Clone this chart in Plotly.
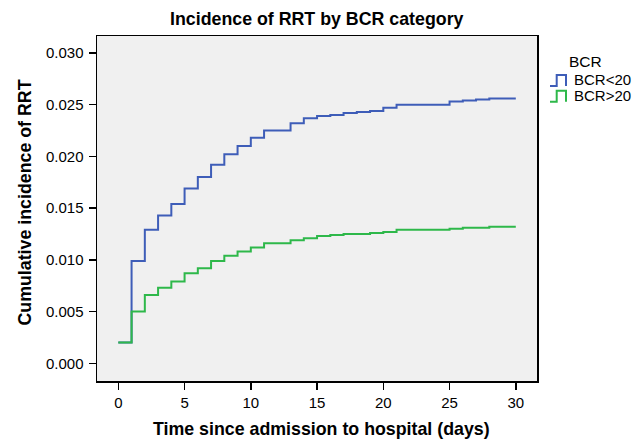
import plotly.graph_objects as go

# Step times (days) and cumulative incidence values
days_lt20 = [0, 1, 2, 3, 4, 5, 6, 7, 8, 9, 10, 11, 13, 14, 15, 16, 17, 18, 19, 20, 21, 25, 26, 27, 28, 30]
cif_lt20 = [0.0020, 0.0099, 0.0129, 0.0143, 0.0154, 0.0169, 0.0180, 0.0192, 0.0202, 0.0210, 0.0218,
            0.0225, 0.0232, 0.0237, 0.0239, 0.0240, 0.0242, 0.0243, 0.0244, 0.0247, 0.0250,
            0.0253, 0.0254, 0.0255, 0.0256, 0.0256]

days_gt20 = [0, 1, 2, 3, 4, 5, 6, 7, 8, 9, 10, 11, 13, 14, 15, 16, 17, 18, 19, 20, 21, 25, 26, 27, 28, 30]
cif_gt20 = [0.0020, 0.0050, 0.0066, 0.0073, 0.0079, 0.0087, 0.0092, 0.0099, 0.0104, 0.0108, 0.0112,
            0.0116, 0.0119, 0.0121, 0.0123, 0.0124, 0.0125, 0.0125, 0.0126, 0.0127, 0.0129,
            0.0130, 0.0131, 0.0131, 0.0132, 0.0132]

series_names = ["BCR<20", "BCR>20"]
series_colors = ["#3E5DB8", "#2EB84A"]
legend_title = "BCR"

x_ticks = [0, 5, 10, 15, 20, 25, 30]
y_ticks = [0.000, 0.005, 0.010, 0.015, 0.020, 0.025, 0.030]
y_tick_labels = ["0.000", "0.005", "0.010", "0.015", "0.020", "0.025", "0.030"]

# geometry in screenshot pixels (page body margin removed below)
W, H = 633, 440
L, R, T, B = 97, 537, 36, 381


def px(xp):
    return (xp - L) / (R - L)


def py(yp):
    return (B - yp) / (B - T)


fig = go.Figure()
fig.add_trace(go.Scatter(x=days_lt20, y=cif_lt20, mode="lines", line_shape="hv",
                         line=dict(color=series_colors[0], width=2), name=series_names[0],
                         showlegend=False))
fig.add_trace(go.Scatter(x=days_gt20, y=cif_gt20, mode="lines", line_shape="hv",
                         line=dict(color=series_colors[1], width=2), name=series_names[1],
                         showlegend=False))

font_family = "Liberation Sans, Arial, sans-serif"
fig.update_layout(
    width=W, height=H,
    margin=dict(l=L, r=W - R, t=T, b=H - B),
    paper_bgcolor="white", plot_bgcolor="#F0F0F0",
    font=dict(family=font_family, size=15, color="black"),
    showlegend=False,
    xaxis=dict(range=[-1.61, 31.6], tickvals=x_ticks, ticks="outside", ticklen=7,
               tickwidth=1.5, tickcolor="black", showgrid=False, zeroline=False,
               showline=True, linecolor="black", linewidth=1.5, mirror=True,
               automargin=False, tickfont=dict(size=15)),
    yaxis=dict(range=[-0.00171, 0.03164], tickvals=y_ticks, ticktext=y_tick_labels,
               ticks="outside", ticklen=7, tickwidth=1.5, tickcolor="black",
               showgrid=False, zeroline=False, showline=True, linecolor="black",
               linewidth=1.5, mirror=True, automargin=False, ticklabelstandoff=2,
               tickfont=dict(size=15)),
)

annots = [
    dict(text="<b>Incidence of RRT by BCR category</b>", x=px(317), y=py(19),
         font=dict(size=17.8)),
    dict(text="<b>Time since admission to hospital (days)</b>", x=px(321), y=py(429),
         font=dict(size=17.8)),
    dict(text="<b>Cumulative incidence of RRT</b>", x=px(24), y=py(202.5),
         textangle=-90, font=dict(size=17.8)),
    dict(text=legend_title, x=px(566.5), y=py(61.7), xanchor="left", font=dict(size=15.5)),
    dict(text=series_names[0], x=px(572), y=py(79.5), xanchor="left", font=dict(size=15)),
    dict(text=series_names[1], x=px(572), y=py(95.5), xanchor="left", font=dict(size=15)),
]
for a in annots:
    a.setdefault("xanchor", "center")
    fig.add_annotation(xref="paper", yref="paper", yanchor="middle", showarrow=False, **a)

# legend step icons
for color, yb, yt in [(series_colors[0], 86, 75), (series_colors[1], 101.7, 90.7)]:
    path = (f"M{px(550)},{py(yb)} L{px(556.7)},{py(yb)} L{px(556.7)},{py(yt)} "
            f"L{px(566)},{py(yt)} L{px(566)},{py(yb)}")
    fig.add_shape(type="path", xref="paper", yref="paper", path=path,
                  line=dict(color=color, width=2))

fig.write_html(
    "out.html",
    config={"displayModeBar": False, "staticPlot": True},
    post_script="document.body.style.margin='0';document.body.style.overflow='hidden';",
)
